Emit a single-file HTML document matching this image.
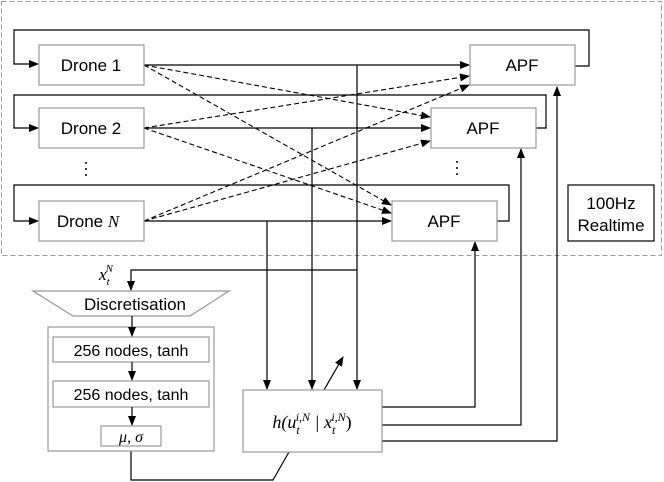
<!DOCTYPE html>
<html><head><style>
html,body{margin:0;padding:0;background:#fff;}
svg{display:block;font-family:"Liberation Sans",Arial,sans-serif;}
.m{font-family:"Liberation Serif",serif;font-style:italic;}
</style></head><body>
<svg width="664" height="482" viewBox="0 0 664 482" xmlns="http://www.w3.org/2000/svg">
<defs>
<marker id="a" markerWidth="10" markerHeight="8" refX="9" refY="4" orient="auto" markerUnits="userSpaceOnUse">
<path d="M0,0 L10,4 L0,8 z" fill="#000"/></marker>
</defs>
<rect x="1.5" y="1.5" width="660" height="254" fill="none" stroke="#999" stroke-dasharray="5,3"/>
<g fill="none" stroke="#000" stroke-width="1.2">
<path d="M575,66 H589 V30 H14 V64 H38" marker-end="url(#a)"/>
<path d="M536,128 H546 V95 H14 V128 H38" marker-end="url(#a)"/>
<path d="M497,221 H509 V185 H14 V221 H38" marker-end="url(#a)"/>
<path d="M144,65 H469" marker-end="url(#a)"/>
<path d="M144,128 H430" marker-end="url(#a)"/>
<path d="M144,221 H391" marker-end="url(#a)"/>
<path d="M267,221 V389" marker-end="url(#a)"/>
<path d="M312,128 V389" marker-end="url(#a)"/>
<path d="M357,65 V389" marker-end="url(#a)"/>
<path d="M357,270 H131 V290" marker-end="url(#a)"/>
<path d="M382,407 H475 V242" marker-end="url(#a)"/>
<path d="M382,425 H521 V149" marker-end="url(#a)"/>
<path d="M382,441 H557 V87" marker-end="url(#a)"/>
<path d="M324,390 L343,357" marker-end="url(#a)"/>
<path d="M131,446 V480 H273 L289,452"/>
</g>
<g fill="none" stroke="#000" stroke-width="1.1" stroke-dasharray="5,3">
<path d="M144,65 L430,117" marker-end="url(#a)"/>
<path d="M144,65 L391,205" marker-end="url(#a)"/>
<path d="M144,128 L469,76" marker-end="url(#a)"/>
<path d="M144,128 L391,213" marker-end="url(#a)"/>
<path d="M144,221 L469,85" marker-end="url(#a)"/>
<path d="M144,221 L430,141" marker-end="url(#a)"/>
</g>
<g fill="#fff" stroke="#999" stroke-width="1.2">
<rect x="39" y="45" width="105" height="40"/>
<rect x="39" y="108" width="105" height="40"/>
<rect x="39" y="201" width="105" height="40"/>
<rect x="470" y="45" width="105" height="40"/>
<rect x="431" y="108" width="105" height="40"/>
<rect x="392" y="201" width="105" height="40"/>
<polygon points="33,291 229,291 190,316 73,316"/>
<rect x="48" y="327" width="166" height="124"/>
<rect x="53" y="337" width="156" height="25"/>
<rect x="53" y="381" width="156" height="26"/>
<rect x="101" y="426" width="60" height="20"/>
<rect x="243" y="390" width="139" height="62"/>
</g>
<g fill="none" stroke="#000" stroke-width="1.2">
<path d="M132,316 V336" marker-end="url(#a)"/>
<path d="M132,362 V380" marker-end="url(#a)"/>
<path d="M132,407 V425" marker-end="url(#a)"/>
</g>
<rect x="568" y="185" width="86" height="56" fill="#fff" stroke="#000" stroke-width="1.2"/>
<g font-size="17" text-anchor="middle" fill="#000">
<text x="91" y="71">Drone 1</text>
<text x="91" y="134">Drone 2</text>
<text x="88" y="227">Drone <tspan class="m">N</tspan></text>
<text x="522" y="71">APF</text>
<text x="483" y="134">APF</text>
<text x="444" y="227">APF</text>
<text x="611" y="209">100Hz</text>
<text x="611" y="231">Realtime</text>
<text x="135" y="310">Discretisation</text>
<text x="131" y="356" font-size="16">256 nodes, tanh</text>
<text x="131" y="400" font-size="16">256 nodes, tanh</text>
<text x="131" y="442" class="m" font-size="16">μ, σ</text>
<text x="312" y="428" class="m" font-size="18">h(u<tspan font-size="12" dy="6">t</tspan><tspan font-size="12" dx="-4" dy="-13">i,N</tspan><tspan dy="7"> | x</tspan><tspan font-size="12" dy="6">t</tspan><tspan font-size="12" dx="-4" dy="-13">i,N</tspan><tspan dy="7" style="font-style:normal">)</tspan></text>
<text x="106" y="280" class="m" font-size="17">x<tspan font-size="11" dy="5">t</tspan><tspan font-size="11" dx="-4" dy="-13">N</tspan></text>
</g>
<g fill="#000">
<circle cx="86" cy="163" r="1"/><circle cx="86" cy="169" r="1"/><circle cx="86" cy="175" r="1"/>
<circle cx="457" cy="162" r="1"/><circle cx="457" cy="168" r="1"/><circle cx="457" cy="174" r="1"/>
</g>
</svg>
</body></html>
